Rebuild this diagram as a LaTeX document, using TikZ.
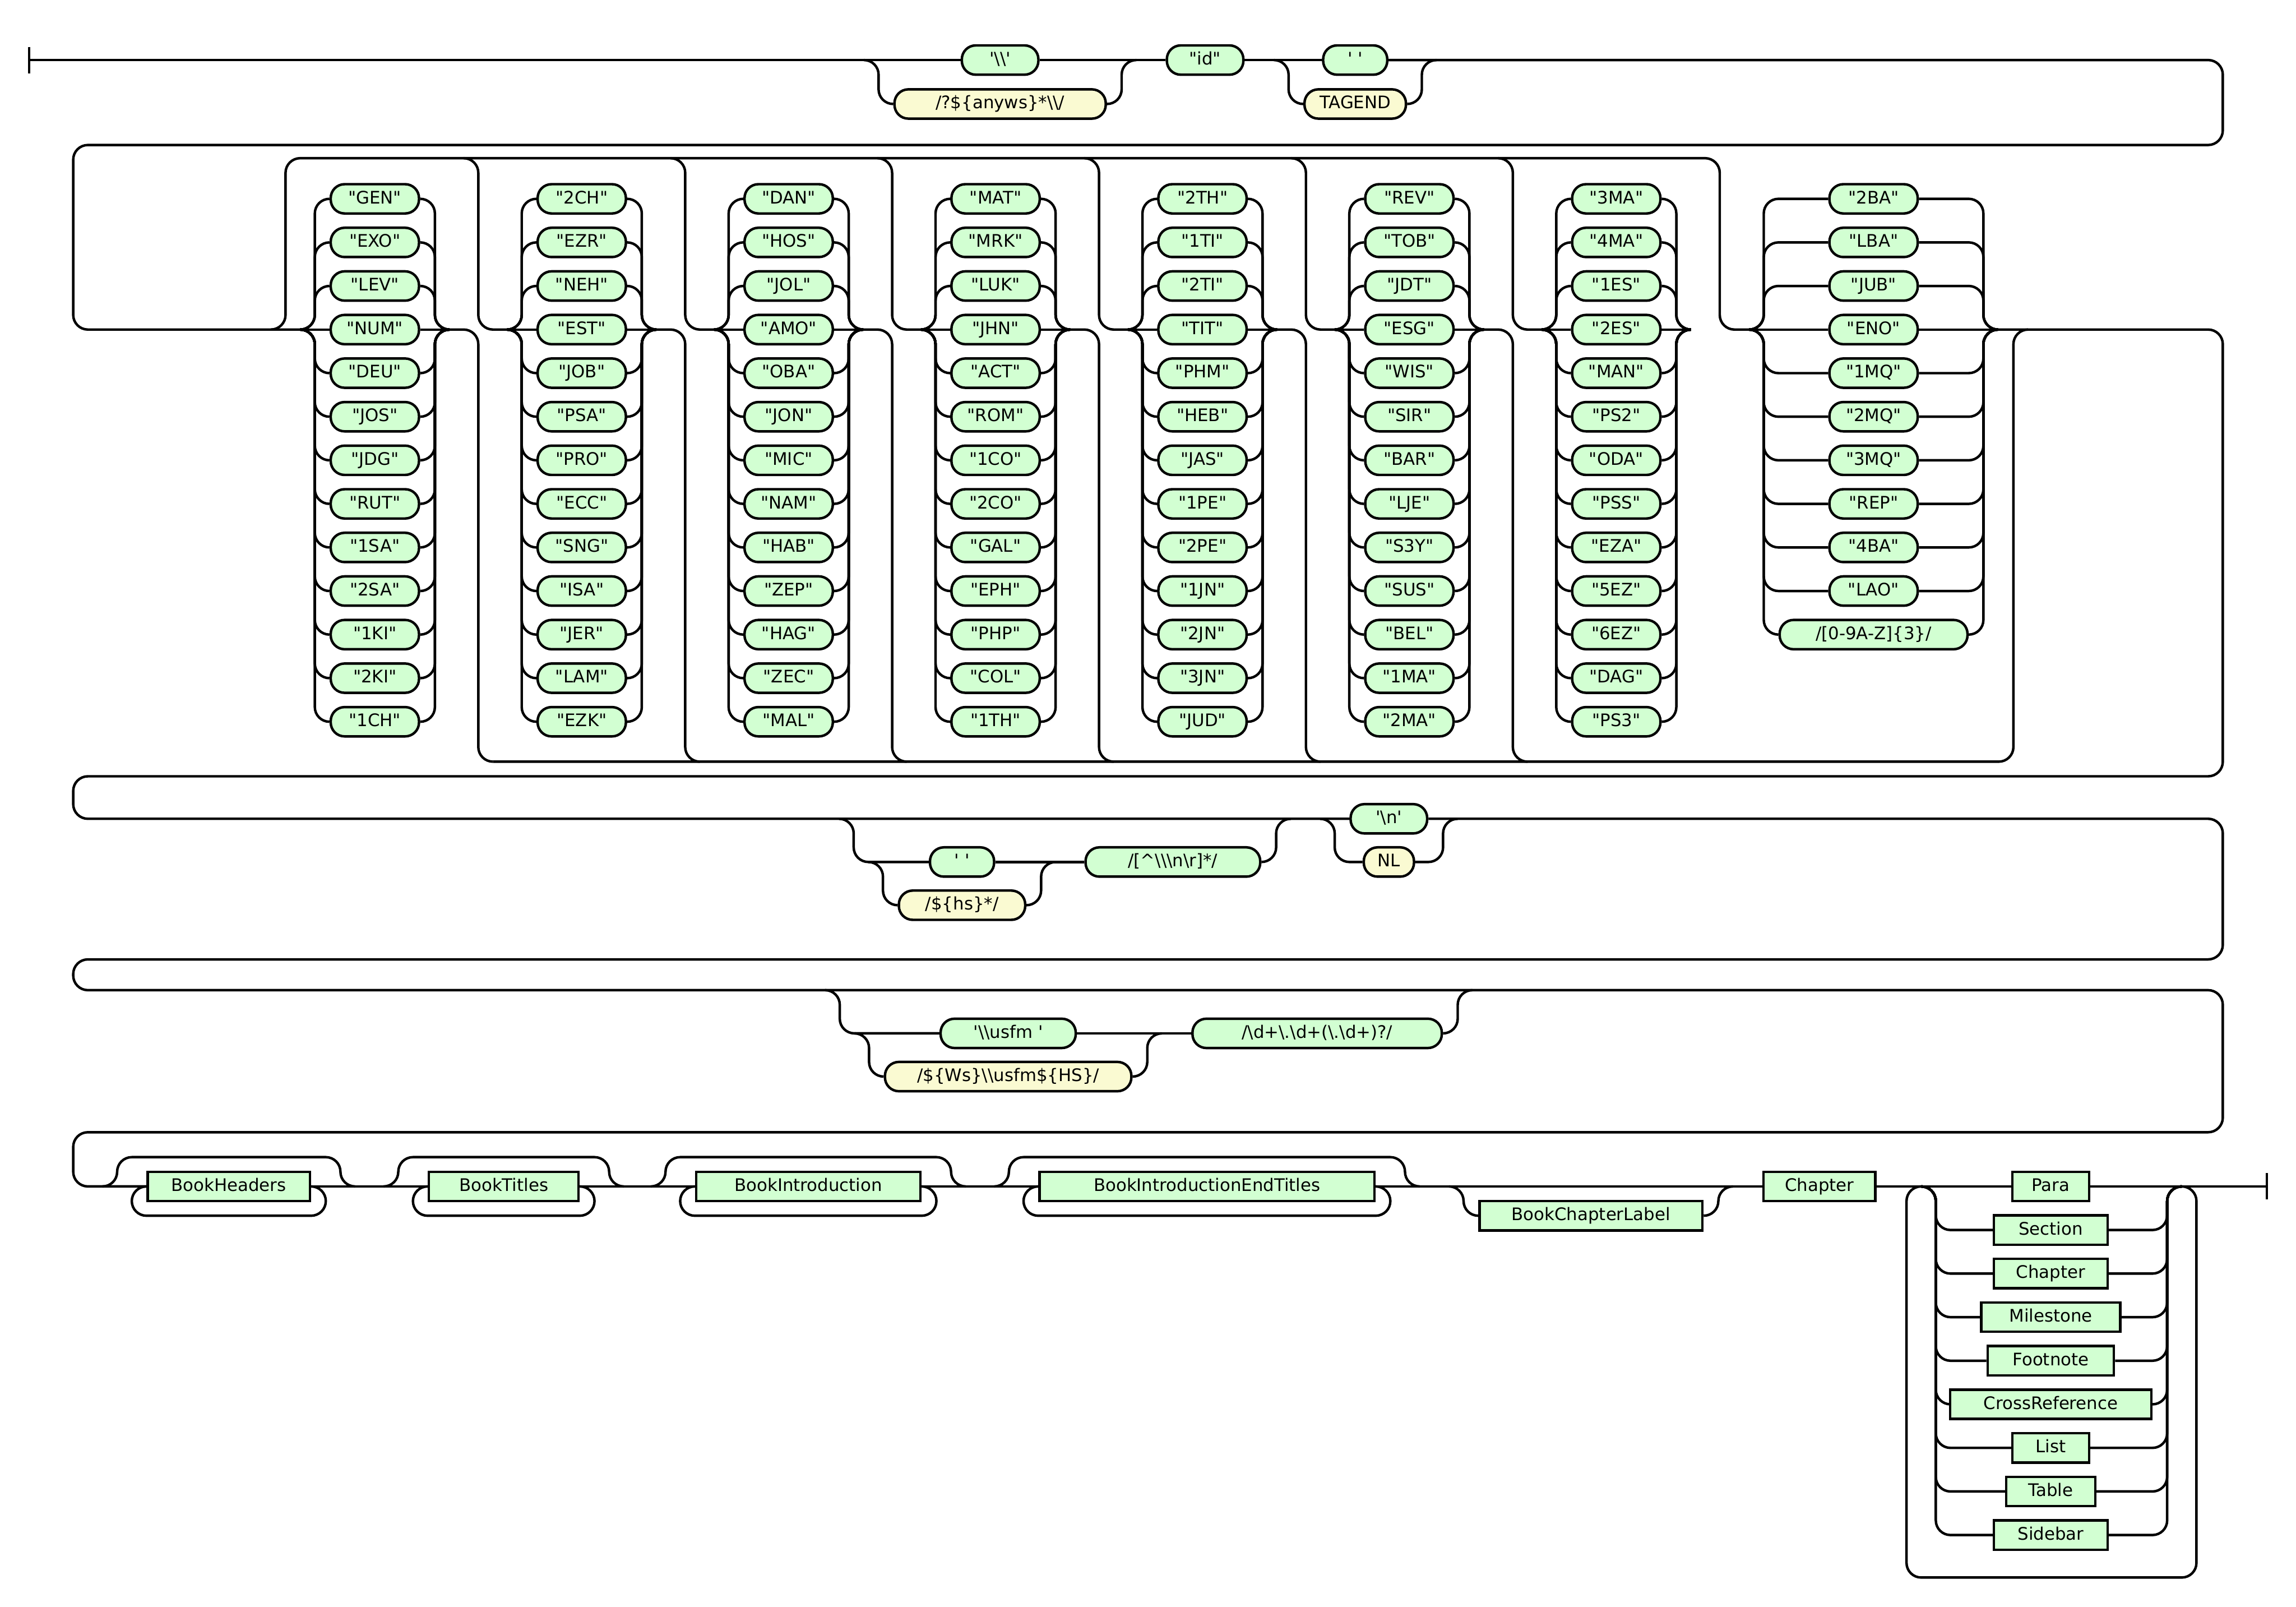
\documentclass[tikz,border=0pt]{standalone}
\usepackage{fontspec}
\newfontfamily\rrfont{DejaVu Sans}
\usepackage{tikz}
\definecolor{termgreen}{RGB}{210,255,210}
\definecolor{regexyellow}{RGB}{250,250,210}
\tikzset{
  rail/.style={line width=1.7pt, rounded corners=10pt},
  term/.style={draw, line width=1.7pt, fill=termgreen, rounded corners=9.5pt,
    minimum height=20pt, inner sep=0pt, text height=9pt, text depth=2.5pt,
    font=\rrfont\fontsize{11.8}{14}\selectfont},
  regex/.style={term, fill=regexyellow},
  rulebox/.style={term, rounded corners=0pt},
}
% one column of book codes, entry 3 sits on the main line
\newcommand\bookcol[3]{%
  \foreach \bk [count=\i from 0] in {#3}{%
    \pgfmathsetmacro\yy{225+(\i-3)*29.75}
    \node[term, minimum width=60.3] (\bk) at (#1,\yy) {"\bk"};
    \ifnum\i=3
      \draw[rail] (#1-#2-10,225) -- (\bk.west) (\bk.east) -- (#1+#2+10,225);
    \else
      \draw[rail] (#1-#2-10,225) -- (#1-#2,225) -- (#1-#2,\yy) -- (\bk.west)
        (\bk.east) -- (#1+#2,\yy) -- (#1+#2,225) -- (#1+#2+10,225);
    \fi
  }%
}

\begin{document}
\begin{tikzpicture}[x=1pt, y=-1pt]
  \useasboundingbox (0,0) rectangle (1568,1097);
  %Row 1
  \node[term, minimum width=52.3] (bsl) at (683,41) {'\textbackslash\textbackslash'};
  \node[regex, minimum width=144.3] (anyws) at (683,71) {/?\$\{anyws\}*\textbackslash\textbackslash/};
  \node[term, minimum width=52.3] (idq) at (823,41) {"id"};
  \node[term, minimum width=43.8] (sp1) at (925.5,41) {'\ '};
  \node[regex, minimum width=69.3] (tagend) at (925.5,71) {TAGEND};
  \draw[line width=1.7pt] (20,32) -- (20,50);
  \draw[rail] (20,41) -- (bsl.west);
  \draw[rail] (590,41) -- (600,41) -- (600,71) -- (anyws.west) (anyws.east) -- (766,71) -- (766,41) -- (776,41);
  \draw[rail] (bsl.east) -- (idq.west);
  \draw[rail] (idq.east) -- (sp1.west);
  \draw[rail] (870,41) -- (880,41) -- (880,71) -- (tagend.west) (tagend.east) -- (971,71) -- (971,41) -- (981,41);
  \draw[rail] (sp1.east) -- (1518,41) -- (1518,99) -- (50,99) -- (50,225) -- (205,225);
  %Row 2: book codes
  \bookcol{256}{41}{GEN,EXO,LEV,NUM,DEU,JOS,JDG,RUT,1SA,2SA,1KI,2KI,1CH}
  \bookcol{397.3}{41}{2CH,EZR,NEH,EST,JOB,PSA,PRO,ECC,SNG,ISA,JER,LAM,EZK}
  \bookcol{538.6}{41}{DAN,HOS,JOL,AMO,OBA,JON,MIC,NAM,HAB,ZEP,HAG,ZEC,MAL}
  \bookcol{679.9}{41}{MAT,MRK,LUK,JHN,ACT,ROM,1CO,2CO,GAL,EPH,PHP,COL,1TH}
  \bookcol{821.2}{41}{2TH,1TI,2TI,TIT,PHM,HEB,JAS,1PE,2PE,1JN,2JN,3JN,JUD}
  \bookcol{962.5}{41}{REV,TOB,JDT,ESG,WIS,SIR,BAR,LJE,S3Y,SUS,BEL,1MA,2MA}
  \bookcol{1103.8}{41}{3MA,4MA,1ES,2ES,MAN,PS2,ODA,PSS,EZA,5EZ,6EZ,DAG,PS3}
  \bookcol{1279.5}{75}{2BA,LBA,JUB,ENO,1MQ,2MQ,3MQ,REP,4BA,LAO}
  \node[term, minimum width=128.3] (anyid) at (1279.5,433.25) {/[0-9A-Z]\{3\}/};
  \draw[rail] (1194.5,225) -- (1204.5,225) -- (1204.5,433.25) -- (anyid.west) (anyid.east) -- (1354.5,433.25) -- (1354.5,225) -- (1364.5,225);
  %Tracks over and under the columns
  \draw[rail] (185,225) -- (195,225) -- (195,108) -- (1174.45,108) -- (1174.45,225) -- (1194.5,225);
  \foreach \b in {326.65,467.95,609.25,750.55,891.85,1033.15}{
    \draw[rail] (\b-10,108) -- (\b,108) -- (\b,225) -- (\b+20,225);
    \draw[rail] (\b-19.65,225) -- (\b,225) -- (\b,520) -- (\b+10,520);
  }
  \draw[rail] (336.65,520) -- (1375,520) -- (1375,225) -- (1385,225);
  %Row 3
  \node[term, minimum width=43.8] (sp2) at (657,588.5) {'\ '};
  \node[regex, minimum width=86.3] (hs) at (657,618) {/\$\{hs\}*/};
  \node[term, minimum width=119.3] (notnl) at (801,588.5) {/[\textasciicircum\textbackslash\textbackslash\textbackslash n\textbackslash r]*/};
  \node[term, minimum width=52.3] (nlq) at (948.5,559) {'\textbackslash n'};
  \node[regex, minimum width=34.3] (nl) at (948.5,588.5) {NL};
  \draw[rail] (1364.5,225) -- (1518,225) -- (1518,530) -- (50,530) -- (50,559) -- (nlq.west);
  \draw[rail] (573,559) -- (583,559) -- (583,588.5) -- (sp2.west);
  \draw[rail] (593,588.5) -- (603,588.5) -- (603,618) -- (hs.west) (hs.east) -- (711,618) -- (711,588.5) -- (721,588.5);
  \draw[rail] (sp2.east) -- (notnl.west);
  \draw[rail] (notnl.east) -- (871.5,588.5) -- (871.5,559) -- (881.5,559);
  \draw[rail] (901.5,559) -- (911.5,559) -- (911.5,588.5) -- (nl.west) (nl.east) -- (985.5,588.5) -- (985.5,559) -- (995.5,559);
  %Row 4
  \node[term, minimum width=92.3] (usfm) at (688.5,705.5) {'\textbackslash\textbackslash usfm\ '};
  \node[regex, minimum width=168.3] (wsusfm) at (688.5,735) {/\$\{Ws\}\textbackslash\textbackslash usfm\$\{HS\}/};
  \node[term, minimum width=170.3] (ver) at (899.5,705.5) {/\textbackslash d+\textbackslash .\textbackslash d+(\textbackslash .\textbackslash d+)?/};
  \draw[rail] (563.5,676) -- (573.5,676) -- (573.5,705.5) -- (usfm.west);
  \draw[rail] (583.5,705.5) -- (593.5,705.5) -- (593.5,735) -- (wsusfm.west) (wsusfm.east) -- (783.5,735) -- (783.5,705.5) -- (793.5,705.5);
  \draw[rail] (usfm.east) -- (ver.west);
  \draw[rail] (ver.east) -- (995.5,705.5) -- (995.5,676) -- (1005.5,676);
  %Row 5
  \node[rulebox, minimum width=110.8] (bh) at (156.25,810) {BookHeaders};
  \node[rulebox, minimum width=102.3] (bt) at (344,810) {BookTitles};
  \node[rulebox, minimum width=153.3] (bi) at (552,810) {BookIntroduction};
  \node[rulebox, minimum width=228.8] (bie) at (824.25,810) {BookIntroductionEndTitles};
  \node[rulebox, minimum width=152.3] (bcl) at (1086.5,830) {BookChapterLabel};
  \node[rulebox, minimum width=76.3] (chap) at (1242.5,810) {Chapter};
  \foreach \nm/\txt/\w [count=\i from 0] in {para/Para/52.3, section/Section/77.7, chapter2/Chapter/77.7, milestone/Milestone/94.8, footnote/Footnote/86.3, xref/CrossReference/137.3, list/List/52.3, table/Table/60.8, sidebar/Sidebar/77.7}{
    \pgfmathsetmacro\yy{810+\i*29.75}
    \node[rulebox, minimum width=\w] (\nm) at (1400.5,\yy) {\txt};
    \ifnum\i>0
      \draw[rail] (1312,810) -- (1322,810) -- (1322,\yy) -- (\nm.west) (\nm.east) -- (1480,\yy) -- (1480,810) -- (1490,810);
    \fi
  }
  \draw[rail] (nlq.east) -- (1518,559) -- (1518,655) -- (50,655) -- (50,676) -- (1518,676) -- (1518,773) -- (50,773) -- (50,810) -- (bh.west);
  \draw[rail] (bh.east) -- (bt.west);
  \draw[rail] (bt.east) -- (bi.west);
  \draw[rail] (bi.east) -- (bie.west);
  \draw[rail] (bie.east) -- (chap.west);
  \draw[rail] (chap.east) -- (para.west);
  \draw[rail] (para.east) -- (1548,810);
  \draw[line width=1.7pt] (1548,801) -- (1548,819);
  \foreach \nm/\L/\R in {bh/100/212.5, bt/292/396, bi/474.5/629.5, bie/709/939.5}{
    \draw[rail] (\L-30,810) -- (\L-20,810) -- (\L-20,790) -- (\R+20,790) -- (\R+20,810) -- (\R+30,810);
    \draw[rail] (\nm.east) -- (\R+10,810) -- (\R+10,830) -- (\L-10,830) -- (\L-10,810) -- (\nm.west);
  }
  \draw[rail] (989.5,810) -- (999.5,810) -- (999.5,830) -- (bcl.west) (bcl.east) -- (1173.5,830) -- (1173.5,810) -- (1183.5,810);
  \draw[rail] (1312,810) -- (1302,810) -- (1302,1077) -- (1500,1077) -- (1500,810) -- (1490,810);
\end{tikzpicture}
\end{document}
